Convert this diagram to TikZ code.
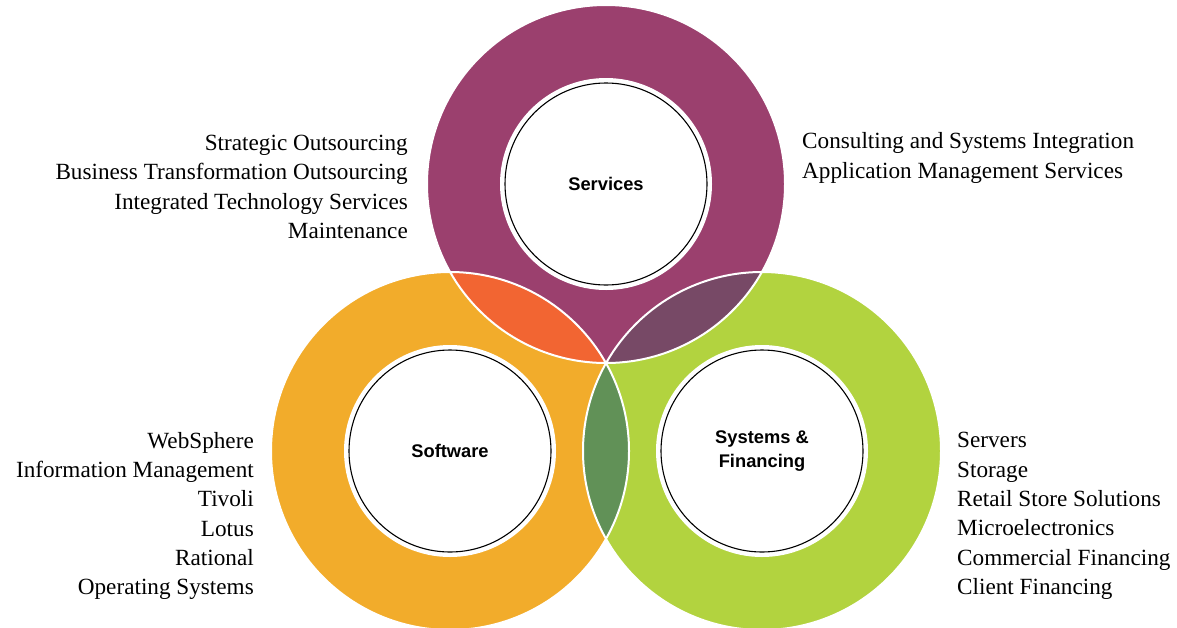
\documentclass[tikz,border=0pt]{standalone}
\usepackage{fontspec}
\setmainfont{Liberation Serif}
\newfontfamily\labelfont{Liberation Sans}
\definecolor{svc}{RGB}{155,64,110}
\definecolor{sw}{RGB}{242,172,43}
\definecolor{sys}{RGB}{178,211,63}
\definecolor{svcsw}{RGB}{242,101,50}
\definecolor{svcsys}{RGB}{119,73,102}
\definecolor{swsys}{RGB}{97,145,87}
\tikzset{
  core/.style={circle, draw=black, line width=1.1pt, fill=white, minimum size=202pt, inner sep=0pt,
    font=\labelfont\bfseries\fontsize{18.3}{24}\selectfont, align=center},
  list/.style={inner sep=0pt, font=\fontsize{23.2}{29.3}\selectfont}
}
\begin{document}
\begin{tikzpicture}[x=1pt,y=-1pt]
\useasboundingbox (0,0) rectangle (1177,627);
\coordinate (cs) at (606,184);
\coordinate (cw) at (450,451);
\coordinate (cy) at (762,451);
% rings
\fill[svc] (cs) circle (179);
\fill[sw] (cw) circle (179);
\fill[sys] (cy) circle (179);
% lenses
\begin{scope}\clip (cs) circle (179); \fill[svcsw] (cw) circle (179); \end{scope}
\begin{scope}\clip (cs) circle (179); \fill[svcsys] (cy) circle (179); \end{scope}
\begin{scope}\clip (cw) circle (179); \fill[swsys] (cy) circle (179); \end{scope}
% white borders
\draw[white, line width=2pt] (cs) circle (179) (cw) circle (179) (cy) circle (179);
% inner discs
\fill[white] (cs) circle (106) (cw) circle (106) (cy) circle (106);
\node[core] (services) at (cs) {Services};
\node[core] (software) at (cw) {Software};
\node[core] (systems) at (cy) {Systems \&\\Financing};
% lists
\node[list, anchor=east, align=right] (l1) at (408,187) {Strategic Outsourcing\\Business Transformation Outsourcing\\Integrated Technology Services\\Maintenance};
\node[list, anchor=west, align=left] (l2) at (802,158) {Consulting and Systems Integration\\Application Management Services};
\node[list, anchor=east, align=right] (l3) at (254,516) {WebSphere\\Information Management\\Tivoli\\Lotus\\Rational\\Operating Systems};
\node[list, anchor=west, align=left] (l4) at (957,516) {Servers\\Storage\\Retail Store Solutions\\Microelectronics\\Commercial Financing\\Client Financing};
\end{tikzpicture}
\end{document}
